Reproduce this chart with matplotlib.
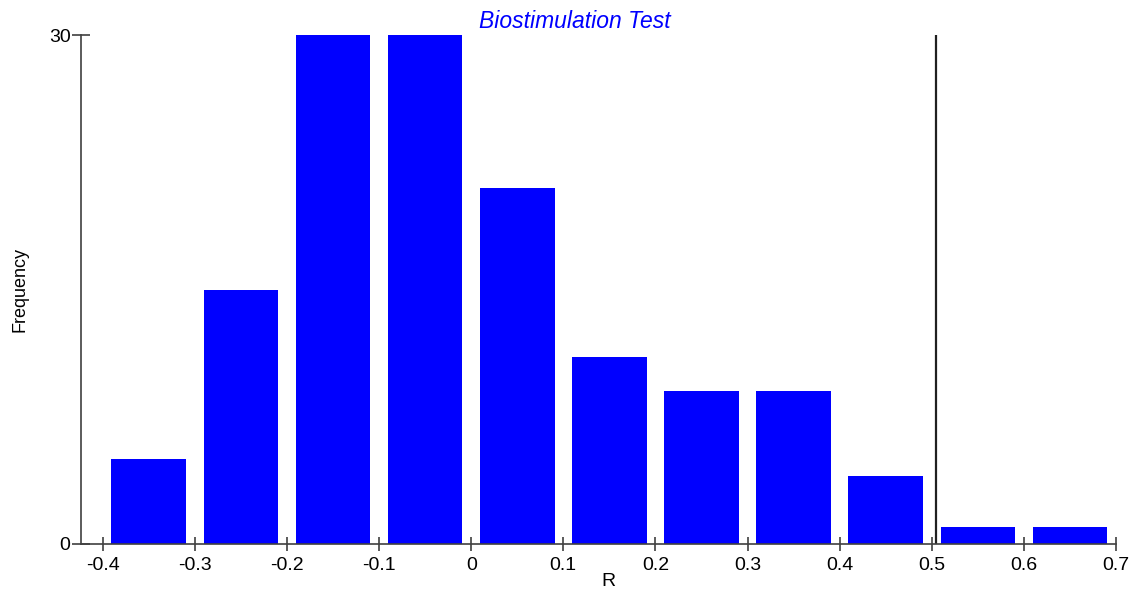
import numpy as np
import matplotlib
matplotlib.use("Agg")
import matplotlib.pyplot as plt

# histogram bins of R and their counts
bin_left = [-0.4, -0.3, -0.2, -0.1, 0.0, 0.1, 0.2, 0.3, 0.4, 0.5, 0.6]
counts = [5, 15, 30, 30, 21, 11, 9, 9, 4, 1, 1]
observed_r = 0.505
xticks = [-0.4, -0.3, -0.2, -0.1, 0, 0.1, 0.2, 0.3, 0.4, 0.5, 0.6, 0.7]
xticklabels = ["-0.4", "-0.3", "-0.2", "-0.1", "0", "0.1", "0.2", "0.3", "0.4", "0.5", "0.6", "0.7"]

plt.rcParams['font.family'] = ['Liberation Sans', 'DejaVu Sans']

fig = plt.figure(figsize=(11.38, 5.94), dpi=100)
ax = fig.add_axes([81/1138, 50/594, 1035/1138, 509/594])

centers = np.array(bin_left) + 0.05
ax.bar(centers, counts, width=0.081, color='#0000ff', edgecolor='none')
ax.axvline(observed_r, color='#202020', lw=1.6)

ax.set_xlim(-0.4236, 0.7)
ax.set_ylim(0, 30)
ax.set_xticks(xticks)
ax.set_xticklabels(xticklabels)
ax.set_yticks([0, 30])
ax.set_yticklabels(["0", "30"])

for s in ['top', 'right']:
    ax.spines[s].set_visible(False)
for s in ['left', 'bottom']:
    ax.spines[s].set_color('#404040')
    ax.spines[s].set_linewidth(1.2)

ax.tick_params(axis='x', direction='inout', length=10, width=1.2, color='#404040',
               labelsize=14, pad=4)
ax.tick_params(axis='y', direction='inout', length=13, width=1.2, color='#404040',
               labelsize=14, pad=1)

fig.text(575/1138, 1 - 21/594, "Biostimulation Test", color='#0000ff', style='italic',
         fontsize=16.5, ha='center', va='center')
fig.text(608/1138, 1 - 582/594, "R", fontsize=14, ha='center', va='center')
fig.text(20/1138, 1 - 290/594, "Frequency", fontsize=13, rotation=90,
         ha='center', va='center')

fig.savefig("out.png", dpi=100)
